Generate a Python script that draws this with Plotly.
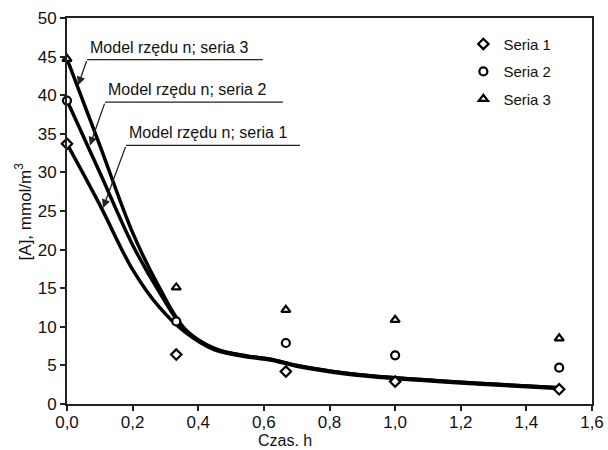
import plotly.graph_objects as go

# Measured concentrations
czas = [0.0, 0.333, 0.667, 1.0, 1.5]
seria1 = [33.7, 6.4, 4.2, 2.9, 1.9]
seria2 = [39.3, 10.7, 7.9, 6.3, 4.7]
seria3 = [44.7, 15.1, 12.2, 10.9, 8.5]

# Fitted n-th order model curves
czas_model = [0.0, 0.1, 0.2, 0.28, 0.36, 0.45, 0.55, 0.62, 0.7, 0.85, 1.0, 1.25, 1.5]
model1 = [33.7, 25.8, 17.4, 12.6, 9.3, 7.0, 6.1, 5.7, 4.9, 3.9, 3.3, 2.6, 2.0]
model2 = [39.3, 30.0, 20.6, 14.6, 9.6, 7.1, 6.2, 5.8, 5.0, 4.0, 3.4, 2.7, 2.1]
model3 = [44.7, 33.5, 22.2, 15.2, 9.7, 7.2, 6.2, 5.8, 5.0, 4.0, 3.4, 2.7, 2.1]

nazwy = ["Seria 1", "Seria 2", "Seria 3"]
symbole = ["diamond", "circle", "triangle-up"]
etykiety_modeli = ["Model rzędu n; seria 1", "Model rzędu n; seria 2", "Model rzędu n; seria 3"]

FONT = "Liberation Sans, Arial, sans-serif"

fig = go.Figure()

for m in (model1, model2, model3):
    fig.add_trace(go.Scatter(
        x=czas_model, y=m, mode="lines",
        line=dict(color="black", width=3.5, shape="spline", smoothing=1.0),
        showlegend=False, hoverinfo="skip", cliponaxis=False,
    ))

for i, (nazwa, dane, sym) in enumerate(zip(nazwy, (seria1, seria2, seria3), symbole)):
    fig.add_trace(go.Scatter(
        x=czas, y=dane, mode="markers", name=nazwa,
        legendgroup=str(i),
        marker=dict(symbol=sym, size=8, color="white",
                    line=dict(color="black", width=2.2)),
        cliponaxis=False,
    ))

# Callouts: (arrow tip), (tail / start of leader), end of leader line
callouts = [
    (etykiety_modeli[2], (0.034, 41.3), (0.061, 44.6), 0.597),
    (etykiety_modeli[1], (0.070, 33.5), (0.116, 39.1), 0.658),
    (etykiety_modeli[0], (0.110, 25.4), (0.180, 33.5), 0.710),
]
for tekst, (tx, ty), (sx, sy), ex in callouts:
    fig.add_shape(type="line", x0=sx, y0=sy, x1=ex, y1=sy,
                  line=dict(color="#222", width=1.3))
    fig.add_annotation(x=tx, y=ty, ax=sx, ay=sy, axref="x", ayref="y",
                       text="", showarrow=True, arrowhead=2, arrowsize=1.3,
                       arrowwidth=1.3, arrowcolor="#222")
    fig.add_annotation(x=sx, y=sy, text=tekst, showarrow=False,
                       xanchor="left", yanchor="bottom", xshift=1, yshift=2,
                       font=dict(family=FONT, size=16, color="#111"))

# Axis titles
fig.add_annotation(x=(285 - 67) / 525, y=-0.093, xref="paper", yref="paper",
                   text="Czas. h", showarrow=False, xanchor="center", yanchor="middle",
                   height=16, borderpad=0,
                   font=dict(family=FONT, size=16, color="#111"))
fig.add_annotation(x=-0.083, y=0.5, xref="paper", yref="paper",
                   text="[A], mmol/m<sup>3</sup>", showarrow=False, textangle=-90,
                   xanchor="center", yanchor="middle",
                   font=dict(family=FONT, size=17, color="#111"))

fig.update_layout(
    width=608, height=450,
    margin=dict(l=67, r=16, t=18, b=46, autoexpand=False),
    paper_bgcolor="white", plot_bgcolor="white",
    separators=", ",
    font=dict(family=FONT, size=17, color="#111"),
    showlegend=True,
    legend=dict(x=0.755, y=0.975, xanchor="left", yanchor="top",
                bgcolor="rgba(0,0,0,0)", traceorder="grouped",
                tracegroupgap=5, font=dict(family=FONT, size=15, color="#111")),
    xaxis=dict(range=[0, 1.6], dtick=0.2, tick0=0, tickformat=".1f",
               automargin=False, ticklabelstandoff=-3,
               showgrid=False, zeroline=False, showline=True, mirror=True,
               linecolor="#222", linewidth=2, ticks="outside", ticklen=5,
               tickwidth=1.5, tickcolor="#222",
               tickfont=dict(family=FONT, size=17, color="#111")),
    yaxis=dict(range=[0, 50], dtick=5, tick0=0, automargin=False,
               showgrid=False, zeroline=False, showline=True, mirror=True,
               linecolor="#222", linewidth=2, ticks="outside", ticklen=5,
               tickwidth=1.5, tickcolor="#222",
               tickfont=dict(family=FONT, size=17, color="#111")),
)

fig.write_html("out.html")
